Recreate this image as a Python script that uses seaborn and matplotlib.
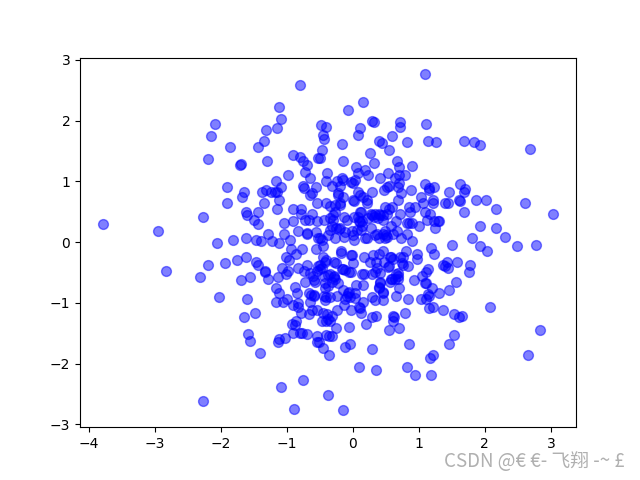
import matplotlib
matplotlib.use('Agg')
import matplotlib.pyplot as plt
import seaborn as sns

# ------------------------------
# Values, grouped by where they sit in the cloud
# ------------------------------
x_upper_left = [-0.80, -1.12, -1.09, -2.09, -2.15, -1.32, -1.15, -1.35, -1.44, -1.86,
                -2.20, -1.71, -1.70, -1.30, -0.48, -0.40, -0.45, -0.44, -0.47, -0.53,
                -0.50, -0.90, -0.80, -0.75, -0.70, -0.72, -0.65, -0.98, -1.16, -1.91,
                -1.09, -1.65, -1.68, -1.38, -1.32, -1.24, -1.18, -1.14, -0.75, -0.74,
                -0.55, -0.39, -0.40, -0.61, -0.65, -1.91, -1.12, -1.35, -1.15, -0.54,
                -0.40, -0.90, -0.78, -0.78, -1.62, -1.60, -1.44, -1.50, -1.44, -2.27,
                -3.79, -2.95, -1.04, -0.90, -0.72, -0.67, -0.61, -0.54, -0.44, -0.83,
                -0.70, -0.69, -0.55, -1.29, -1.04, -1.62, -1.47, -1.82, -2.06, -0.95,
                -1.39, -1.23, -1.12, -0.50, -0.37, -0.35, -0.17, -0.02, -0.22, 0.00,
                -0.27, -0.20, -0.30, -0.53, -0.47, -0.12, -0.20, -0.25, -0.35, 0.00]
y_upper_left = [2.58, 2.23, 2.02, 1.95, 1.74, 1.85, 1.87, 1.67, 1.57, 1.57,
                1.36, 1.27, 1.28, 1.33, 1.92, 1.89, 1.77, 1.69, 1.51, 1.39,
                1.39, 1.43, 1.40, 1.33, 1.27, 1.16, 1.05, 1.10, 1.01, 0.90,
                0.90, 0.82, 0.74, 0.83, 0.85, 0.83, 0.83, 0.83, 0.92, 0.89,
                0.90, 1.13, 1.00, 0.80, 0.78, 0.64, 0.69, 0.64, 0.55, 0.64,
                0.64, 0.54, 0.55, 0.46, 0.50, 0.44, 0.49, 0.36, 0.29, 0.41,
                0.29, 0.19, 0.31, 0.34, 0.37, 0.37, 0.46, 0.34, 0.37, 0.18,
                0.14, 0.15, 0.16, 0.14, 0.13, 0.06, 0.04, 0.03, -0.02, 0.04,
                0.01, 0.02, -0.01, 0.07, 0.12, 0.39, 1.05, 0.99, 0.80, 0.69,
                0.61, 0.64, 0.44, 0.06, 0.03, 0.16, 0.23, 0.24, 0.20, 0.12]

x_upper_right = [1.10, 0.16, -0.07, 0.29, 0.32, 0.72, 0.72, 1.11, 0.11, 0.08,
                 0.60, 0.40, 0.44, 0.82, -0.16, 1.14, 1.26, 1.69, 1.84, 1.92,
                 2.68, 0.55, 0.26, -0.15, 0.32, 0.67, 0.90, 0.70, 0.05, 0.19,
                 0.08, 0.23, 0.54, 0.70, 0.79, 0.41, -0.15, -0.24, 0.03, 0.00,
                 -0.20, -0.32, 0.70, 0.64, 1.10, 1.23, 1.16, 1.16, 1.63, 1.70,
                 1.68, 1.46, 0.52, 0.47, 0.55, 0.69, 0.88, 0.29, 0.08, 0.11,
                 -0.22, -0.15, 0.73, 1.04, 1.22, 1.22, 1.07, 1.40, 1.45, 1.61,
                 1.63, 1.86, 2.02, 2.61, 2.17, 1.69, 3.04, 0.69, 0.22, 0.16,
                 0.02, 0.22, -0.19, 0.49, 0.55, 0.60, 0.85, 0.94, 0.87, 1.10,
                 1.17, 0.72, 0.40, 0.52, 0.11, -0.35, -0.27, 0.29, 0.32, 0.38,
                 0.46, -0.13, -0.09, 0.02, 0.14, 0.23, -0.30, 1.13, 1.23, 1.29,
                 1.30, 1.25, 1.01, 0.82, 0.90, 0.85, 0.66, 0.58, 0.67, 0.82,
                 0.73, 0.90, 0.61, 0.49, 0.52, 0.46, 0.36, 0.28, 0.14, -0.01,
                 -0.21, -0.32, 0.10, 0.22, 0.02, -0.13, 0.40, -0.27, 1.93, 2.17,
                 2.30, 1.81, 0.28, 0.33, 0.41, 0.46, 0.13, 0.08, 0.11, 0.13,
                 0.18, 0.33, 0.49, 0.51, 0.06]
y_upper_right = [2.76, 2.30, 2.18, 2.00, 1.97, 1.98, 1.90, 1.95, 1.87, 1.77,
                 1.74, 1.67, 1.63, 1.64, 1.62, 1.67, 1.64, 1.66, 1.64, 1.59,
                 1.54, 1.52, 1.46, 1.34, 1.31, 1.34, 1.25, 1.23, 1.23, 1.18,
                 1.13, 1.11, 1.13, 1.11, 1.10, 1.06, 1.03, 1.01, 1.03, 0.97,
                 0.93, 0.93, 0.97, 1.06, 0.95, 0.90, 0.89, 0.85, 0.95, 0.87,
                 0.83, 0.83, 0.90, 0.85, 0.93, 0.90, 0.85, 0.83, 0.83, 0.77,
                 0.78, 0.75, 0.80, 0.74, 0.70, 0.65, 0.65, 0.65, 0.65, 0.70,
                 0.67, 0.69, 0.70, 0.64, 0.54, 0.50, 0.46, 0.69, 0.70, 0.74,
                 0.67, 0.64, 0.61, 0.57, 0.54, 0.57, 0.57, 0.58, 0.49, 0.50,
                 0.46, 0.46, 0.47, 0.47, 0.49, 0.60, 0.49, 0.44, 0.41, 0.39,
                 0.37, 0.41, 0.36, 0.41, 0.34, 0.39, 0.36, 0.36, 0.34, 0.34,
                 0.34, 0.24, 0.26, 0.31, 0.31, 0.31, 0.34, 0.27, 0.18, 0.13,
                 0.06, 0.01, 0.14, 0.19, 0.09, 0.14, 0.14, 0.24, 0.26, 0.19,
                 0.21, 0.27, 0.34, 0.06, 0.04, 0.08, 0.06, 0.06, 0.26, 0.23,
                 0.09, 0.06, 0.47, 0.47, 0.44, 0.44, 0.50, 0.42, 0.33, 0.20,
                 0.06, 0.12, 0.06, 0.12, 0.20]

x_lower_right = [-0.18, -0.18, 1.92, 2.04, 1.51, 2.49, 2.77, 1.19, 1.23, 0.98,
                 0.98, 0.81, 0.76, 0.46, 0.40, 0.31, 0.17, -0.01, 0.58, 0.61,
                 0.26, 0.35, 0.47, 0.00, -0.28, 0.75, 0.83, 0.55, 1.36, 1.43,
                 1.40, 1.45, 1.58, 1.78, 1.76, 1.14, 1.11, 1.05, 0.93, 0.69,
                 0.69, 0.64, 0.58, 0.57, 0.70, 0.65, 0.84, 1.57, 1.46, 1.31,
                 1.20, 1.11, 1.14, 1.16, 1.04, 1.11, 1.22, 1.16, 1.36, 1.54,
                 1.61, 1.66, 2.08, 2.84, 2.66, 1.54, 1.46, 1.22, 1.17, 1.19,
                 0.82, 0.94, 0.85, 0.79, 0.61, 0.63, 0.61, 0.55, 0.70, 0.35,
                 0.29, 0.20, 0.11, 0.13, 0.10, -0.03, -0.24, -0.06, -0.25, -0.32,
                 -0.04, -0.12, 0.29, 0.10, 0.35, -0.38, -0.15, 0.46, 0.34, 0.29,
                 0.46, 0.40, 0.16, 0.05, 0.03, 0.03, -0.07, -0.15, -0.24, -0.09,
                 -0.04, -0.13, 0.16, -0.35, -0.03, -0.15, -0.28, -0.35, 0.14, 0.17,
                 0.29, 0.41, 0.41, -0.22, -0.31, -0.27, -0.32, -0.35, 0.69, 0.59,
                 0.66, 0.33, 0.36, 0.41, 0.39, 0.46, 0.54, 0.56, 0.76, 0.71,
                 1.10]
y_lower_right = [-0.15, -0.18, -0.07, -0.15, -0.04, -0.07, -0.04, -0.10, -0.19, -0.20,
                 -0.28, -0.15, -0.24, -0.15, -0.19, -0.22, -0.25, -0.22, -0.24, -0.28,
                 -0.32, -0.32, -0.32, -0.35, -0.33, -0.35, -0.40, -0.40, -0.38, -0.33,
                 -0.40, -0.42, -0.32, -0.38, -0.50, -0.45, -0.50, -0.55, -0.63, -0.51,
                 -0.56, -0.60, -0.60, -0.66, -0.76, -0.89, -0.94, -0.65, -0.79, -0.83,
                 -0.75, -0.68, -0.86, -0.89, -0.93, -0.94, -1.06, -1.09, -1.12, -1.19,
                 -1.24, -1.21, -1.06, -1.45, -1.86, -1.53, -1.67, -1.85, -1.90, -2.18,
                 -2.06, -2.19, -1.68, -1.16, -1.21, -1.24, -1.30, -1.45, -1.42, -1.21,
                 -1.24, -1.34, -1.09, -1.16, -1.07, -1.12, -1.12, -1.39, -1.42, -1.55,
                 -1.67, -1.72, -1.76, -2.06, -2.11, -2.52, -2.77, -0.96, -0.96, -0.91,
                 -0.83, -0.75, -0.71, -0.70, -0.83, -0.92, -0.84, -0.79, -0.89, -0.88,
                 -0.91, -1.04, -0.98, -0.91, -0.50, -0.45, -0.56, -0.53, -0.53, -0.53,
                 -0.53, -0.51, -0.65, -0.68, -0.65, -0.60, -1.22, -1.30, -0.60, -0.60,
                 -0.52, -0.49, -0.43, -0.68, -0.74, -0.82, -0.41, -0.24, -0.38, -0.24,
                 -0.67]

x_lower_left = [-2.83, -2.20, -2.32, -1.94, -1.76, -1.62, -1.47, -1.44, -1.33, -1.33,
                -1.29, -1.69, -1.56, -1.13, -1.01, -0.97, -0.94, -0.77, -0.86, -1.07,
                -1.01, -0.98, -0.83, -0.74, -0.69, -0.56, -0.45, -0.45, -0.42, -0.52,
                -0.54, -0.49, -0.60, -0.72, -0.57, -0.44, -0.37, -1.16, -1.12, -0.88,
                -0.85, -0.66, -0.59, -0.44, -0.37, -2.03, -1.60, -1.48, -1.65, -1.16,
                -1.06, -1.00, -0.91, -0.83, -0.83, -0.78, -0.66, -0.65, -0.62, -0.54,
                -0.45, -0.39, -0.47, -0.40, -1.59, -1.56, -1.41, -1.12, -1.13, -1.03,
                -0.92, -0.86, -0.88, -0.91, -0.80, -0.77, -0.70, -0.54, -0.54, -0.51,
                -0.45, -0.40, -0.36, -0.36, -0.75, -1.09, -2.27, -0.89, -0.40, -0.50,
                -0.47, -0.25, -0.12, -0.05, -0.17, -0.29, -0.42, -0.42, -0.58, -0.05,
                -0.12, -0.40, -0.42, -0.58, -0.63, -0.37, -0.65, -0.02]
y_lower_left = [-0.48, -0.37, -0.58, -0.35, -0.30, -0.25, -0.32, -0.38, -0.47, -0.50,
                -0.60, -0.63, -0.58, -0.58, -0.25, -0.30, -0.12, -0.12, -0.20, -0.42,
                -0.52, -0.47, -0.43, -0.48, -0.37, -0.12, -0.07, -0.24, -0.32, -0.40,
                -0.48, -0.44, -0.56, -0.65, -0.65, -0.56, -0.54, -0.76, -0.84, -0.74,
                -0.84, -0.83, -0.88, -0.88, -0.73, -0.91, -0.94, -1.16, -1.24, -0.98,
                -0.99, -0.94, -1.03, -1.01, -1.07, -1.17, -1.19, -0.99, -1.12, -1.11,
                -1.17, -1.19, -1.30, -1.30, -1.52, -1.63, -1.83, -1.60, -1.65, -1.58,
                -1.34, -1.30, -1.37, -1.49, -1.50, -1.50, -1.52, -1.55, -1.65, -1.65,
                -1.75, -1.53, -1.55, -1.86, -2.27, -2.39, -2.62, -2.75, -0.30, -0.38,
                -0.43, -0.35, -0.46, -0.49, -0.44, -0.57, -0.68, -0.75, -0.62, -0.82,
                -0.93, -0.90, -0.95, -0.87, -0.87, -1.26, -0.51, -0.21]

watermark = 'CSDN @€ €- 飞翔 -~ £'

x_vals = x_upper_left + x_upper_right + x_lower_right + x_lower_left
y_vals = y_upper_left + y_upper_right + y_lower_right + y_lower_left

# ------------------------------
# Scatter of all the points
# ------------------------------
fig, ax = plt.subplots(figsize=(6.4, 4.8), dpi=100)
sns.scatterplot(x=x_vals, y=y_vals, s=50, color='blue', edgecolor='blue',
                linewidth=1.0, alpha=0.5, ax=ax)

# watermark sits over the bottom right corner
fig.text(0.976, 0.027, watermark, ha='right', va='baseline', fontsize=13.5, color='#b0b0b0',
         family=['Noto Sans CJK SC', 'DejaVu Sans'])

plt.savefig('out.png', dpi=100)
